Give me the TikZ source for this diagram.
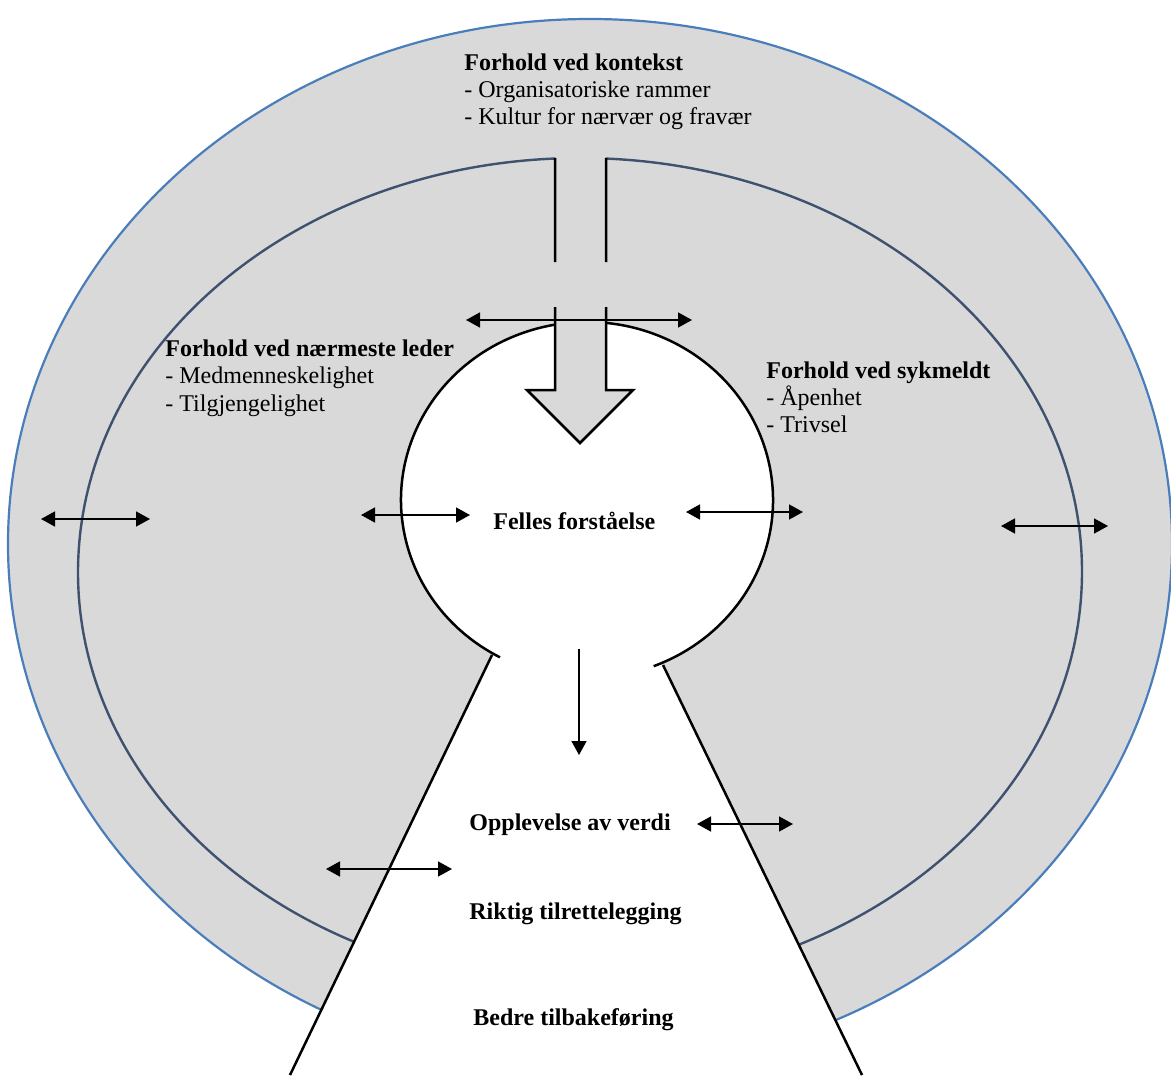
\documentclass[tikz,border=0pt]{standalone}
\usepackage{fontspec}
\setmainfont{Liberation Serif}
\usetikzlibrary{arrows.meta}
\definecolor{ringgray}{RGB}{217,217,217}
\definecolor{outerblue}{RGB}{74,126,187}
\definecolor{innerblue}{RGB}{62,82,112}
\begin{document}
\begin{tikzpicture}[x=0.5pt,y=-0.5pt,
  lbl/.style={anchor=base west,inner sep=0pt,font=\fontsize{12pt}{13.8pt}\selectfont},
  hdr/.style={anchor=base west,inner sep=0pt,font=\fontsize{12pt}{13.8pt}\selectfont\bfseries},
  ctr/.style={anchor=base west,inner sep=0pt,font=\fontsize{12pt}{13.8pt}\selectfont\bfseries},
  dbl/.style={{Triangle[length=7pt,width=7.5pt]}-{Triangle[length=7pt,width=7.5pt]},line width=0.75pt},
  sgl/.style={-{Triangle[length=7pt,width=7.5pt]},line width=0.75pt},
  blk/.style={line width=1.25pt,black}]
\useasboundingbox (0,0) rectangle (1171,1075);
% outer ring
\draw[fill=ringgray,draw=outerblue,line width=1.1pt] (590,544) ellipse [x radius=582, y radius=525];
% inner ellipse with gap at top
\draw[draw=innerblue,line width=1.2pt] ([shift={(580,572)}]272.97:502 and 414) arc[start angle=272.97,end angle=627.15,x radius=502,y radius=414];
% white circle and funnel
\fill[white] (587,500) ellipse [x radius=186, y radius=178];
\fill[white] (492,655) -- (290,1076) -- (862,1076) -- (663,665) -- cycle;
\draw[blk] ([shift={(587,500)}]117.9:186 and 178) arc[start angle=117.9,end angle=429,x radius=186,y radius=178];
\draw[blk] (492,655) -- (290,1075);
\draw[blk] (663,665) -- (862,1075);
% block arrow
\fill[ringgray] (555,156) -- (555,390) -- (527,390) -- (580,443) -- (633,390) -- (606,390) -- (606,156) -- cycle;
\draw[blk] (555,158) -- (555,262) (555,307) -- (555,390) -- (527,390) -- (580,443) -- (633,390) -- (606,390) -- (606,307) (606,262) -- (606,158);
% texts
\node[hdr] (kt) at (464,71) {Forhold ved kontekst};
\node[lbl] (k1) at (464,97.5) {- Organisatoriske rammer};
\node[lbl] (k2) at (464,125) {- Kultur for nærvær og fravær};
\node[hdr] (lt) at (165,356) {Forhold ved nærmeste leder};
\node[lbl] (l1) at (165,383) {- Medmenneskelighet};
\node[lbl] (l2) at (165,411) {- Tilgjengelighet};
\node[hdr] (st) at (766,378) {Forhold ved sykmeldt};
\node[lbl] (s1) at (766,405) {- Åpenhet};
\node[lbl] (s2) at (766,432) {- Trivsel};
\node[ctr] (ff) at (493,529) {Felles forståelse};
\node[ctr] (ov) at (469,830) {Opplevelse av verdi};
\node[ctr] (rt) at (469,919) {Riktig tilrettelegging};
\node[ctr] (bt) at (473,1025) {Bedre tilbakeføring};
% arrow end points
\coordinate (a1l) at (41,519); \coordinate (a1r) at (150,519);
\coordinate (a2l) at (361,515); \coordinate (a2r) at (470,515);
\coordinate (a3l) at (686,512); \coordinate (a3r) at (803,512);
\coordinate (a4l) at (1001,526); \coordinate (a4r) at (1108,526);
\coordinate (a5l) at (466,320); \coordinate (a5r) at (692,320);
\coordinate (a6l) at (697,824); \coordinate (a6r) at (793,824);
\coordinate (a7l) at (326,869); \coordinate (a7r) at (452,869);
\coordinate (vt) at (579,649); \coordinate (vb) at (579,755);
\draw[dbl] (a1l) -- (a1r);
\draw[dbl] (a2l) -- (a2r);
\draw[dbl] (a3l) -- (a3r);
\draw[dbl] (a4l) -- (a4r);
\draw[dbl] (a5l) -- (a5r);
\draw[dbl] (a6l) -- (a6r);
\draw[dbl] (a7l) -- (a7r);
\draw[sgl] (vt) -- (vb);
\end{tikzpicture}
\end{document}
